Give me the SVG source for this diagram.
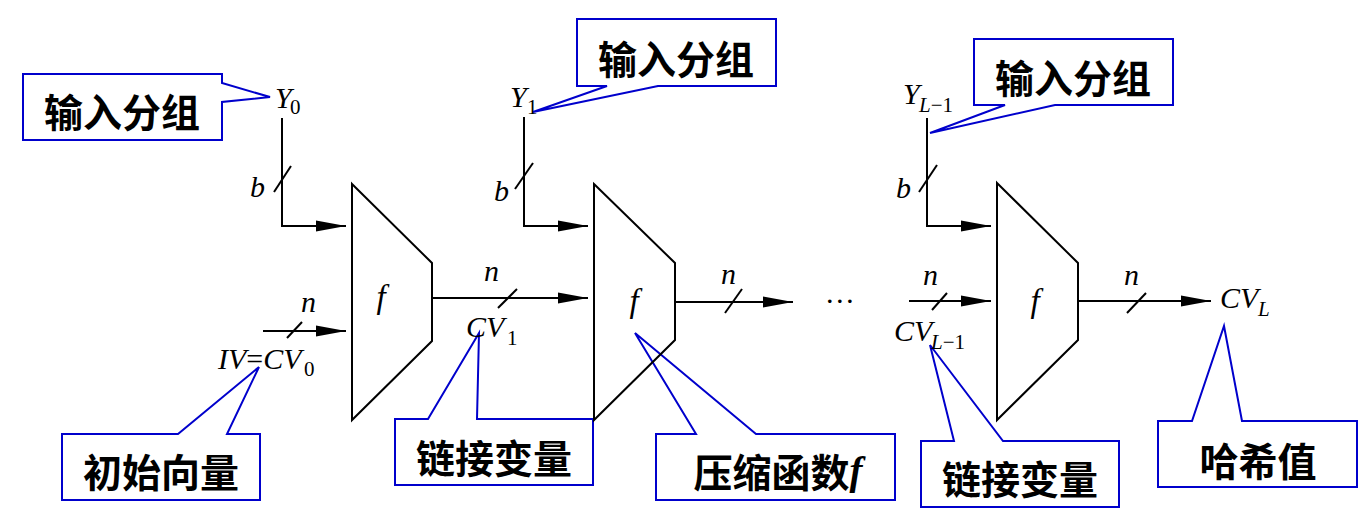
<svg xmlns="http://www.w3.org/2000/svg" width="1370" height="532" viewBox="0 0 1370 532">
<style>
.ln{fill:none;stroke:#000;stroke-width:2}
.trap{fill:none;stroke:#000;stroke-width:2;stroke-linejoin:miter}
.call{fill:#fff;stroke:#0000cc;stroke-width:2;stroke-linejoin:miter}
.it{font-family:"Liberation Serif",serif;font-style:italic;font-size:30px;fill:#000}
.fn{font-size:33px}
.sub{font-family:"Liberation Serif",serif;font-style:normal;font-size:21px}
.subi{font-family:"Liberation Serif",serif;font-style:italic;font-size:21px}
.up{font-style:normal}
.cjk{font-family:"Noto Sans CJK SC","Liberation Sans",sans-serif;font-weight:700;font-size:39px;fill:#000;text-anchor:middle;dominant-baseline:central}
.fb{font-family:"Liberation Serif",serif;font-style:italic;font-weight:700}
</style>
<defs>
<marker id="arr" markerUnits="userSpaceOnUse" markerWidth="30" markerHeight="12" refX="30" refY="6" orient="auto">
<path d="M0,0.5 L30,6 L0,11.5 Z" fill="#000"/>
</marker>
</defs>
<rect width="1370" height="532" fill="#fff"/>

<g id="callouts">
<g id="c-y0"><path class="call" d="M23,74 H222 V83 L270,97 L222,102 V140 H23 Z"/><text class="cjk" x="122" y="110">输入分组</text></g>
<g id="c-y1"><path class="call" d="M577,19 H776 V86 H658 L533,112 L607,86 H577 Z"/><text class="cjk" x="676" y="57">输入分组</text></g>
<g id="c-yl1"><path class="call" d="M974,39 H1173 V105 H1055 L930,133 L1005,105 H974 Z"/><text class="cjk" x="1073" y="76">输入分组</text></g>
<g id="c-iv"><path class="call" d="M62,434 H178 L259,367 L227,434 H260 V500 H62 Z"/><text class="cjk" x="161" y="470">初始向量</text></g>
<g id="c-cv1"><path class="call" d="M395,419 H428 L479,333 L477,419 H593 V485 H395 Z"/><text class="cjk" x="494" y="456">链接变量</text></g>
<g id="c-f"><path class="call" d="M656,434 H696 L635,333 L756,434 H895 V500 H656 Z"/><text class="cjk" x="778" y="470">压缩函数<tspan class="fb">f</tspan></text></g>
<g id="c-cvl1"><path class="call" d="M921,441 H954 L930,345 L1003,441 H1119 V507 H921 Z"/><text class="cjk" x="1020" y="477">链接变量</text></g>
<g id="c-hash"><path class="call" d="M1158,421 H1192 L1224,326 L1242,421 H1357 V487 H1158 Z"/><text class="cjk" x="1258" y="459">哈希值</text></g>
</g>

<g id="f1"><path class="trap" d="M352,184 L432,263 L432,341 L352,420 Z"/><text class="it fn" x="381" y="308" text-anchor="middle">f</text></g>
<g id="f2"><path class="trap" d="M594,184 L675,263 L675,340 L594,420 Z"/><text class="it fn" x="634" y="312" text-anchor="middle">f</text></g>
<g id="f3"><path class="trap" d="M997,183 L1078,263 L1078,340 L997,420 Z"/><text class="it fn" x="1035" y="312" text-anchor="middle">f</text></g>

<g id="connectors">
<path class="ln" d="M282,118 V226 H346" marker-end="url(#arr)"/>
<path class="ln" d="M263,331 H346" marker-end="url(#arr)"/>
<path class="ln" d="M432,298 H588" marker-end="url(#arr)"/>
<path class="ln" d="M524,117 V226 H588" marker-end="url(#arr)"/>
<path class="ln" d="M675,302 H793" marker-end="url(#arr)"/>
<path class="ln" d="M909,301 H991" marker-end="url(#arr)"/>
<path class="ln" d="M927,118 V226 H991" marker-end="url(#arr)"/>
<path class="ln" d="M1078,301 H1211" marker-end="url(#arr)"/>
<g id="slashes">
<line class="ln" x1="274" y1="192" x2="291" y2="166"/>
<line class="ln" x1="515" y1="189" x2="533" y2="163"/>
<line class="ln" x1="919" y1="192" x2="937" y2="165"/>
<line class="ln" x1="287" y1="338" x2="302" y2="322"/>
<line class="ln" x1="498" y1="308" x2="517" y2="289"/>
<line class="ln" x1="725" y1="313" x2="742" y2="289"/>
<line class="ln" x1="932" y1="310" x2="947" y2="293"/>
<line class="ln" x1="1127" y1="313" x2="1146" y2="293"/>
</g>
</g>

<g id="labels">
<text class="it" x="275" y="108">Y<tspan class="sub" x="290" y="114">0</tspan></text>
<text class="it" x="510" y="107">Y<tspan class="sub" x="527" y="114">1</tspan></text>
<text class="it" x="903" y="104">Y<tspan class="subi" x="919" y="112">L</tspan><tspan class="sub">−1</tspan></text>
<text class="it" x="250" y="197">b</text>
<text class="it" x="494" y="201">b</text>
<text class="it" x="896" y="198">b</text>
<text class="it" x="301" y="312">n</text>
<text class="it" x="484" y="281">n</text>
<text class="it" x="721" y="284">n</text>
<text class="it" x="923" y="285">n</text>
<text class="it" x="1124" y="285">n</text>
<text class="it" x="218" y="369">IV<tspan class="up">=</tspan>CV<tspan class="sub" x="304" y="376">0</tspan></text>
<text class="it" x="466" y="337">CV<tspan class="sub" x="507" y="345">1</tspan></text>
<text class="it" x="894" y="341">CV<tspan class="subi" x="931" y="349">L</tspan><tspan class="sub">−1</tspan></text>
<text class="it" x="1220" y="308">CV<tspan class="subi" x="1258" y="316">L</tspan></text>
<text class="it" x="827" y="303">…</text>
</g>
</svg>
